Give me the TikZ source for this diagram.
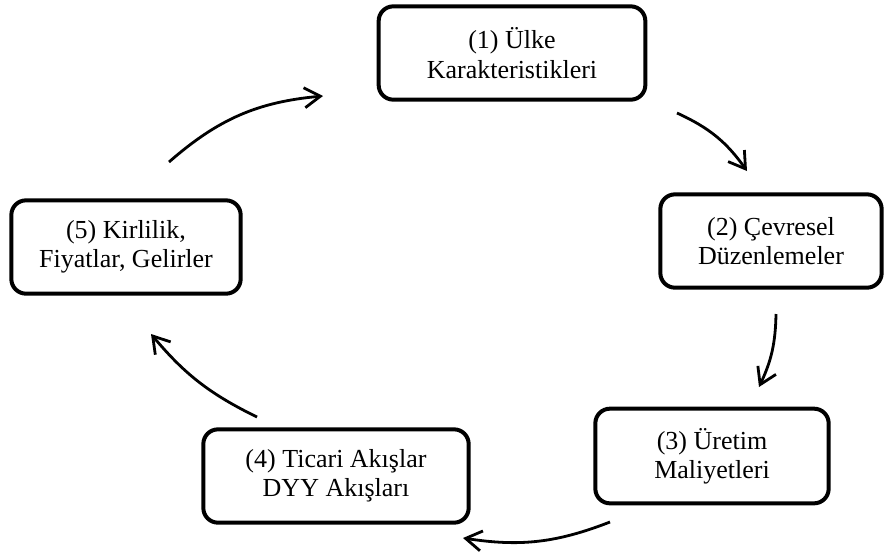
\documentclass[tikz,border=0pt]{standalone}
\usepackage{fontspec}
\setmainfont{Liberation Serif}
\usetikzlibrary{arrows.meta}
\begin{document}
\begin{tikzpicture}[x=0.75pt,y=-0.75pt,
  box/.style={draw=black,line width=3pt,rounded corners=11pt,align=center,
    font=\fontsize{19.5}{22}\selectfont,inner sep=0pt},
  flow/.style={line width=2.1pt,-{Straight Barb[length=12pt,width=15pt,line width=2.1pt]}}]
\useasboundingbox (0,0) rectangle (884,551);
\node[box,minimum width=200pt,minimum height=70pt] (b1) at (512,53) {(1) Ülke\\Karakteristikleri};
\node[box,minimum width=166pt,minimum height=70pt] (b2) at (771,241) {(2) Çevresel\\Düzenlemeler};
\node[box,minimum width=175pt,minimum height=71pt] (b3) at (712,456) {(3) Üretim\\Maliyetleri};
\node[box,minimum width=199pt,minimum height=70pt] (b4) at (336,476) {(4) Ticari Akışlar\\DYY Akışları};
\node[box,minimum width=172pt,minimum height=70pt] (b5) at (126,247) {(5) Kirlilik,\\Fiyatlar, Gelirler};
\coordinate (a1s) at (169,162); \coordinate (a1e) at (323,96);
\coordinate (a2s) at (677,113); \coordinate (a2e) at (747,171);
\coordinate (a3s) at (776,314); \coordinate (a3e) at (759,387);
\coordinate (a4s) at (610,522); \coordinate (a4e) at (463,538);
\coordinate (a5s) at (257,417); \coordinate (a5e) at (151,334);
\draw[flow] (a1s) to[bend left=18] (a1e);
\draw[flow] (a2s) to[bend left=15] (a2e);
\draw[flow] (a3s) to[bend left=12] (a3e);
\draw[flow] (a4s) to[bend left=15] (a4e);
\draw[flow] (a5s) to[bend left=12] (a5e);
\end{tikzpicture}
\end{document}
